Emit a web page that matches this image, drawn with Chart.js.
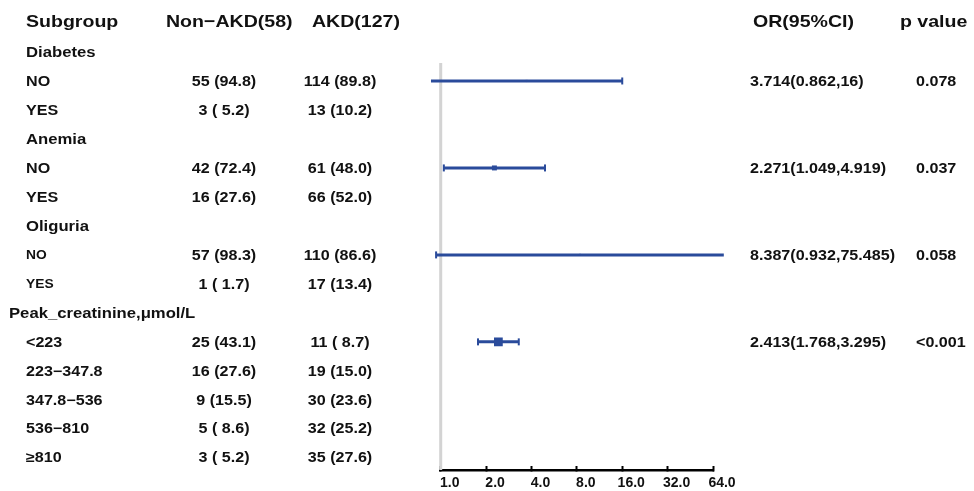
<!DOCTYPE html>
<html>
<head>
<meta charset="utf-8">
<script src="https://cdn.jsdelivr.net/npm/chart.js@4.4.1/dist/chart.umd.min.js"></script>
<style>
  html, body { margin: 0; padding: 0; background: #fff; }
  #wrap { width: 974px; height: 491px; position: relative; }
</style>
</head>
<body>
<div id="wrap"><canvas id="c"></canvas></div>
<script>
// ---------- data ----------
const headers = ['Subgroup', 'Non\u2212AKD(58)', 'AKD(127)', 'OR(95%CI)', 'p value'];
const rowLabels = ['Diabetes', 'NO', 'YES', 'Anemia', 'NO', 'YES', 'Oliguria', 'NO', 'YES',
  'Peak_creatinine,\u03bcmol/L', '<223', '223\u2212347.8', '347.8\u2212536', '536\u2212810', '\u2265810'];
const nonAKD = ['', '55 (94.8)', '3 ( 5.2)', '', '42 (72.4)', '16 (27.6)', '', '57 (98.3)', '1 ( 1.7)',
  '', '25 (43.1)', '16 (27.6)', '9 (15.5)', '5 ( 8.6)', '3 ( 5.2)'];
const akd = ['', '114 (89.8)', '13 (10.2)', '', '61 (48.0)', '66 (52.0)', '', '110 (86.6)', '17 (13.4)',
  '', '11 ( 8.7)', '19 (15.0)', '30 (23.6)', '32 (25.2)', '35 (27.6)'];
const orRowIndex = [1, 4, 7, 10];          // index into rowLabels
const orEst = [3.714, 2.271, 8.387, 2.413];
const orLow = [0.862, 1.049, 0.932, 1.768];
const orHigh = [16, 4.919, 75.485, 3.295];
const orText = ['3.714(0.862,16)', '2.271(1.049,4.919)', '8.387(0.932,75.485)', '2.413(1.768,3.295)'];
const pText = ['0.078', '0.037', '0.058', '<0.001'];
const xTicks = [1, 2, 4, 8, 16, 32, 64];

// ---------- styles ----------
const BLUE = '#2a4b9b';
const markerRadius = [1.5, 3.5, 1.5, 6.2];
const groupRows = [0, 3, 6, 9];
const smallRows = [7, 8];
const SX = 1.15;
const FONT = '"Liberation Sans", Arial, Helvetica, sans-serif';

const rowOf = i => i + 1;  // header is row 0

const datasets = [];
datasets.push({
  type: 'line', data: [{ x: 1, y: 1.38 }, { x: 1, y: 15.42 }],
  borderColor: '#d3d3d3', borderWidth: 3, pointRadius: 0, order: 3, clip: false
});
orRowIndex.forEach((ri, k) => {
  datasets.push({
    type: 'line', data: [{ x: orLow[k], y: rowOf(ri) }, { x: orHigh[k], y: rowOf(ri) }],
    borderColor: BLUE, borderWidth: 3, pointStyle: 'line', pointRotation: 90,
    pointRadius: 3.5, pointBorderWidth: 2, pointBorderColor: BLUE, order: 2, clip: false
  });
});
datasets.push({
  type: 'scatter', data: orRowIndex.map((ri, k) => ({ x: orEst[k], y: rowOf(ri) })),
  pointStyle: 'rect', pointRadius: markerRadius, backgroundColor: BLUE, borderColor: BLUE,
  pointBorderWidth: 0, order: 1, clip: false
});

function txt(ctx, s, x, y, size, align) {
  ctx.save();
  ctx.font = 'bold ' + size + 'px ' + FONT;
  ctx.textAlign = align;
  ctx.textBaseline = 'middle';
  ctx.fillStyle = '#111';
  ctx.translate(x, y);
  ctx.scale(SX, 1);
  ctx.fillText(s, 0, 0);
  ctx.restore();
}

const tablePlugin = {
  id: 'table',
  afterDraw(chart) {
    const ctx = chart.ctx;
    const ys = chart.scales.y;
    const y0 = ys.getPixelForValue(0) - 0.5;
    txt(ctx, headers[0], 26, y0, 17, 'left');
    txt(ctx, headers[1], 166, y0, 17, 'left');
    txt(ctx, headers[2], 312, y0, 17, 'left');
    txt(ctx, headers[3], 753, y0, 17, 'left');
    txt(ctx, headers[4], 900, y0, 17, 'left');
    rowLabels.forEach((lab, i) => {
      const y = ys.getPixelForValue(rowOf(i)) + 0.8;
      const isGroup = groupRows.includes(i);
      const size = isGroup ? 14.5 : (smallRows.includes(i) ? 12 : 14);
      const x = (i === 9) ? 9 : 26;
      txt(ctx, lab, x, y, size, 'left');
      if (nonAKD[i]) txt(ctx, nonAKD[i], 224, y, 14, 'center');
      if (akd[i]) txt(ctx, akd[i], 340, y, 14, 'center');
    });
    orRowIndex.forEach((ri, k) => {
      const y = ys.getPixelForValue(rowOf(ri)) + 0.8;
      txt(ctx, orText[k], 750, y, 14, 'left');
      txt(ctx, pText[k], 916, y, 14, 'left');
    });
  }
};

new Chart(document.getElementById('c'), {
  data: { datasets },
  options: {
    responsive: true, maintainAspectRatio: false, animation: false,
    events: [],
    layout: { padding: { left: 440.7, right: 261, top: 23, bottom: 0 } },
    plugins: { legend: { display: false }, tooltip: { enabled: false } },
    scales: {
      x: {
        type: 'logarithmic', min: 1, max: 64, position: 'bottom',
        afterBuildTicks: s => { s.ticks = xTicks.map(v => ({ value: v })); },
        afterFit: s => { s.height = 21; },
        grid: { display: true, drawOnChartArea: false, drawTicks: true, tickLength: -4, tickColor: '#000', tickWidth: 2 },
        border: { display: true, color: '#000', width: 2.5 },
        ticks: {
          color: '#111', autoSkip: false, maxRotation: 0, padding: 9, labelOffset: 9,
          font: { family: FONT, weight: 'bold', size: 14 },
          callback: v => Number(v).toFixed(1)
        }
      },
      y: { type: 'linear', display: false, min: 0, max: 15.42, reverse: true }
    }
  },
  plugins: [tablePlugin]
});
</script>
</body>
</html>
